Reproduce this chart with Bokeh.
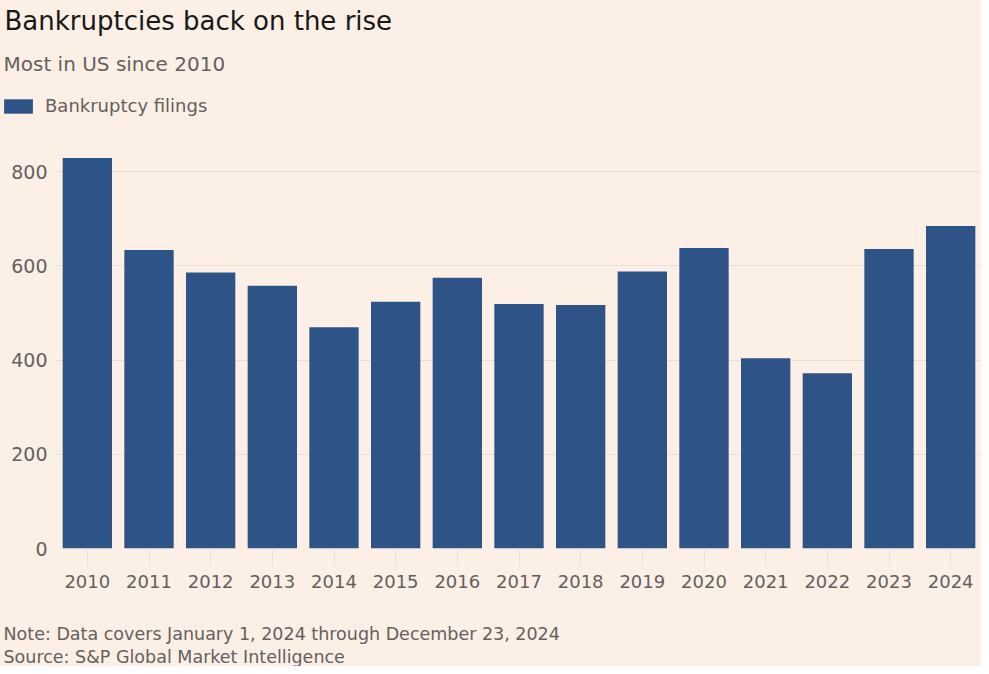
from bokeh.plotting import figure
from bokeh.layouts import column
from bokeh.models import (Label, Legend, LegendItem, FactorRange, Range1d, FixedTicker,
                          ColumnDataSource)
from bokeh.embed import file_html
from bokeh.resources import INLINE

years = [str(y) for y in range(2010, 2025)]
filings = [829, 634, 586, 558, 470, 524, 575, 519, 517, 588, 638, 404, 372, 636, 685]
y_ticks = [0, 200, 400, 600, 800]

title_text = "Bankruptcies back on the rise"
subtitle_text = "Most in US since 2010"
series_name = "Bankruptcy filings"
note_text = "Note: Data covers January 1, 2024 through December 23, 2024"
source_text = "Source: S&P Global Market Intelligence"

BG = "#FCEFE6"
BAR = "#2E5487"
GRAY = "#66605C"
GRID = "#EADFD6"
FONT = "DejaVu Sans"
W = 981

src = ColumnDataSource(dict(year=years, filings=filings))


def blank(height):
    f = figure(width=W, height=height, output_backend="svg", toolbar_location=None,
               title=None, x_axis_location=None, y_axis_location=None,
               x_range=FactorRange(*years), y_range=Range1d(0, 1),
               background_fill_color=BG, border_fill_color=BG, outline_line_color=None,
               min_border_left=0, min_border_right=0, min_border_top=0, min_border_bottom=0,
               frame_align=False)
    f.xgrid.grid_line_color = None
    f.ygrid.grid_line_color = None
    return f


def add_text(f, txt, x, y, size, color):
    f.add_layout(Label(x=x, y=y, x_units="screen", y_units="screen", text=txt,
                       text_font=FONT, text_font_size=size, text_color=color,
                       text_baseline="alphabetic", text_align="left"))


# header: title, subtitle, legend
head = blank(143)
add_text(head, title_text, 4, 123, "26px", "#1A1817")
add_text(head, subtitle_text, 3, 80, "20px", GRAY)
key = head.vbar(x="year", top="filings", source=src, width=0.8,
                fill_color=BAR, line_color=None, visible=False)
legend = Legend(items=[LegendItem(label=series_name, renderers=[key])],
                location=(0, 27), orientation="horizontal",
                glyph_width=36, glyph_height=18, label_height=18,
                padding=0, margin=0, spacing=0,
                label_text_font=FONT, label_text_font_size="18px",
                label_text_color=GRAY, label_standoff=9,
                inactive_fill_alpha=0,
                border_line_color=None, background_fill_alpha=0)
head.add_layout(legend, "center")

# main chart
p = figure(x_range=FactorRange(*years), y_range=Range1d(0, 860),
           width=W, height=457, output_backend="svg", toolbar_location=None,
           title=None, background_fill_color=BG, border_fill_color=BG,
           outline_line_color=None, min_border_left=56, min_border_right=0,
           min_border_top=0, min_border_bottom=52, frame_align=False)

p.vbar(x="year", top="filings", source=src, width=0.8, fill_color=BAR, line_color=None)

p.xgrid.grid_line_color = None
p.ygrid.grid_line_color = GRID
p.ygrid.grid_line_width = 1
p.yaxis.ticker = FixedTicker(ticks=y_ticks)
p.yaxis.axis_line_color = None
p.yaxis.major_tick_line_color = None
p.yaxis.minor_tick_line_color = None
p.yaxis.major_label_standoff = 3
p.yaxis.major_label_text_font = FONT
p.yaxis.major_label_text_font_size = "19px"
p.yaxis.major_label_text_color = GRAY

p.xaxis.axis_line_color = None
p.xaxis.major_tick_line_color = GRID
p.xaxis.major_tick_out = 17
p.xaxis.major_tick_in = 0
p.xaxis.major_label_standoff = 9
p.xaxis.major_label_text_font = FONT
p.xaxis.major_label_text_font_size = "18px"
p.xaxis.major_label_text_color = GRAY

# footer: note and source
foot = blank(66)
add_text(foot, note_text, 3, 33, "17.5px", GRAY)
add_text(foot, source_text, 3, 10, "17.5px", GRAY)

layout = column(head, p, foot, spacing=0, styles={"background-color": BG})
open("out.html", "w").write(file_html(layout, INLINE))
